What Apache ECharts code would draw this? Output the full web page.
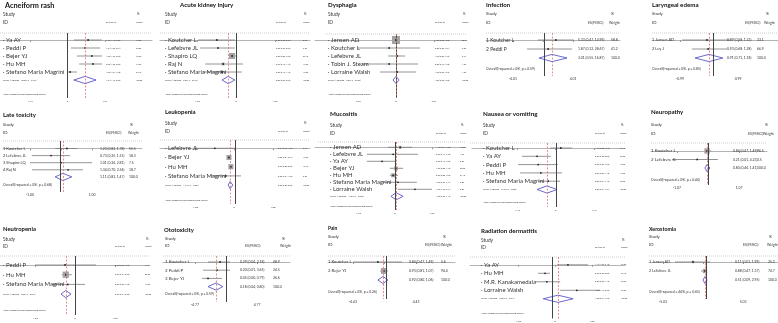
<!DOCTYPE html>
<html>
<head>
<meta charset="utf-8">
<script src="https://cdn.jsdelivr.net/npm/echarts@6/dist/echarts.min.js"></script>
<style>
  html, body { margin: 0; padding: 0; background: #fff; }
  #chart { width: 778px; height: 323px; }
</style>
</head>
<body>
<div id="chart"></div>
<script>
// Forest plots, one per adverse event. Positions are in plot units:
// the two outer tick labels sit at -1 and +1.
const panelTitles = [
  "Acneiform rash", "Acute kidney injury", "Dysphagia", "Infection", "Laryngeal edema",
  "Late toxicity", "Leukopenia", "Mucositis", "Nausea or vomiting", "Neuropathy",
  "Neutropenia", "Ototoxicity", "Pain", "Radiation dermatitis", "Xerostomia",
];

const studyNames = [
  ["Ya AY", "Peddi P", "Bejer YJ", "Hu MH", "Stefano Maria Magrini"],
  ["Koutcher L", "Lefebvre JL", "Shapiro LQ", "Raj N", "Stefano Maria Magrini"],
  ["Jensen AD", "Koutcher L", "Lefebvre JL", "Tobin J. Steam", "Lorraine Walsh"],
  ["1 Koutcher L", "2 Peddi P"],
  ["1 Jensen AD", "2 Ley J"],
  ["1 Koutcher L", "2 Lefebvre JL", "3 Shapiro LQ", "4 Raj N"],
  ["Lefebvre JL", "Bejer YJ", "Hu MH", "Stefano Maria Magrini"],
  ["Jensen AD", "Lefebvre JL", "Ya AY", "Bejer YJ", "Hu MH", "Stefano Maria Magrini", "Lorraine Walsh"],
  ["Koutcher L", "Ya AY", "Peddi P", "Hu MH", "Stefano Maria Magrini"],
  ["1 Koutcher L", "2 Lefebvre JL"],
  ["Peddi P", "Hu MH", "Stefano Maria Magrini"],
  ["1 Koutcher L", "2 Peddi P", "3 Bejer YJ"],
  ["1 Koutcher L", "2 Bejer YJ"],
  ["Ya AY", "Hu MH", "M.R. Kanakamedala", "Lorraine Walsh"],
  ["1 Jensen AD", "2 Lefebvre JL"],
];

const studyEst = [
  [0.55, 0.47, 0.65, 0.68, 0.07],
  [-0.49, -0.46, -0.10, -0.33, -0.36],
  [0.0, -0.18, 0.03, -0.18, 0.03],
  [0.43, 0.17],
  [-0.07, -0.03],
  [0.19, -0.32, 0.0, 0.23],
  [-0.49, -0.13, -0.08, -0.21],
  [0.14, -0.05, -0.35, 0.03, -0.05, 0.08, 0.54],
  [0.14, -0.48, -0.45, -0.38, -0.19],
  [-0.03, -0.35],
  [-0.25, -0.23, -0.18],
  [-0.19, -0.29, -0.58],
  [-0.21, -0.02],
  [0.35, -0.27, -0.22, 0.59],
  [-0.25, 0.05],
];

const studyLow = [
  [0.17, 0.09, 0.25, 0.31, 0.01],
  [-0.97, -0.92, -0.18, -0.79, -0.85],
  [-0.08, -1.0, -0.21, -0.89, -0.42],
  [-0.17, -0.53],
  [-0.93, -0.59],
  [-0.19, -0.94, -1.0, -0.94],
  [-1.0, -0.18, -0.13, -0.62],
  [-0.19, -0.76, -0.76, -0.14, -0.14, -0.32, 0.08],
  [-0.14, -0.87, -0.97, -0.92, -0.45],
  [-0.10, -1.16],
  [-1.0, -0.33, -0.58],
  [-0.58, -0.74, -0.77],
  [-1.0, -0.14],
  [0.05, -0.46, -0.54, 0.14],
  [-0.70, -0.05],
];

const studyHigh = [
  [0.92, 0.87, 0.92, 0.92, 0.25],
  [-0.03, -0.03, 0.03, 0.18, 0.15],
  [0.08, 0.63, 0.24, 0.58, 0.53],
  [1.03, 0.97],
  [0.72, 0.62],
  [0.52, 0.29, 1.0, 0.71],
  [0.03, -0.08, -0.03, 0.18],
  [0.46, 0.62, 0.0, 0.22, 0.08, 0.59, 1.0],
  [0.43, -0.12, 0.06, 0.17, 0.12],
  [0.10, 0.32],
  [0.53, -0.08, 0.25],
  [0.13, 0.13, -0.13],
  [0.56, 0.11],
  [0.89, -0.14, 0.14, 1.22],
  [0.18, 0.10],
];

const studyWeight = [
  [19.5, 20.8, 18.7, 17.9, 23.1],
  [8.2, 9.5, 56.4, 12.6, 13.3],
  [88.1, 2.3, 6.4, 1.6, 1.6],
  [58.8, 41.2],
  [33.1, 66.9],
  [55.5, 18.3, 7.5, 18.7],
  [5.4, 45.2, 46.1, 3.3],
  [16.3, 4.2, 8.9, 28.6, 31.4, 6.8, 3.8],
  [22.4, 20.5, 18.9, 17.6, 20.6],
  [96.5, 3.5],
  [7.1, 80.2, 12.7],
  [48.9, 24.5, 26.6],
  [5.6, 94.4],
  [27.5, 26.1, 23.9, 22.5],
  [25.3, 74.7],
];

const studyEsText = [
  ["1.72 (1.13, 2.60)", "1.64 (1.06, 2.54)", "1.96 (1.27, 2.60)", "2.02 (1.33, 2.60)", "1.07 (1.01, 1.28)"],
  ["0.62 (0.38, 0.97)", "0.63 (0.39, 0.97)", "0.90 (0.83, 1.03)", "0.72 (0.45, 1.19)", "0.70 (0.42, 1.16)"],
  ["1.00 (0.93, 1.08)", "0.85 (0.36, 1.84)", "1.02 (0.82, 1.27)", "0.85 (0.40, 1.78)", "1.03 (0.67, 1.62)"],
  ["5.33 (0.47, 14.99)", "1.87 (0.12, 28.67)"],
  ["0.89 (0.58, 1.33)", "0.93 (0.68, 1.28)"],
  ["1.23 (0.83, 1.78)", "0.73 (0.35, 1.53)", "1.01 (0.36, 2.81)", "1.34 (0.70, 2.56)"],
  ["0.61 (0.37, 1.03)", "0.89 (0.84, 0.94)", "0.92 (0.88, 0.97)", "0.82 (0.54, 1.20)"],
  ["1.15 (0.84, 1.58)", "0.96 (0.47, 1.93)", "0.73 (0.47, 1.00)", "1.02 (0.88, 1.19)", "0.96 (0.88, 1.06)", "1.07 (0.75, 1.71)", "1.66 (1.07, 2.71)"],
  ["1.15 (0.88, 1.52)", "0.60 (0.38, 0.89)", "0.62 (0.35, 1.06)", "0.67 (0.37, 1.18)", "0.83 (0.64, 1.13)"],
  ["0.84 (0.47, 1.49)", "0.21 (0.01, 4.23)"],
  ["0.78 (0.37, 1.69)", "0.79 (0.71, 0.92)", "0.83 (0.57, 1.28)"],
  ["0.29 (0.04, 2.18)", "0.20 (0.01, 3.65)", "0.05 (0.00, 0.79)"],
  ["0.84 (0.47, 1.49)", "0.93 (0.81, 1.07)"],
  ["1.42 (1.05, 2.43)", "0.76 (0.63, 0.87)", "0.80 (0.59, 1.15)", "1.78 (1.15, 3.35)"],
  ["0.11 (0.01, 1.99)", "0.88 (0.47, 1.37)"],
];

const overallEst = [0.47, -0.20, 0.0, 0.30, 0.0, 0.06, -0.10, 0.03, -0.22, -0.03, -0.23, -0.32, -0.05, 0.08, 0.05];
const overallLow = [0.17, -0.36, -0.08, -0.13, -0.48, -0.19, -0.15, -0.11, -0.48, -0.10, -0.35, -0.58, -0.21, -0.32, 0.0];
const overallHigh = [0.76, -0.03, 0.08, 0.80, 0.48, 0.35, -0.03, 0.22, 0.04, 0.06, -0.10, -0.10, 0.11, 0.49, 0.10];
const overallEsText = [
  "1.64 (1.17, 2.30)", "0.82 (0.70, 0.97)", "1.00 (0.93, 1.08)", "3.01 (0.55, 16.87)", "0.91 (0.71, 1.18)",
  "1.11 (0.83, 1.47)", "0.90 (0.86, 0.97)", "1.03 (0.90, 1.17)", "0.80 (0.61, 1.04)", "0.80 (0.46, 1.41)",
  "0.79 (0.71, 0.90)", "0.18 (0.04, 0.80)", "0.92 (0.80, 1.06)", "1.08 (0.71, 1.63)", "0.51 (0.09, 2.95)",
];
const heterogeneityText = [
  "Overall  (I-squared = 38.6%, p = 0.164)", "Overall  (I-squared = 0.0%, p = 0.512)",
  "Overall  (I-squared = 0.0%, p = 0.937)", "Overall(I-squared = 0%, p = 0.59)",
  "Overall(I-squared = 0%, p = 0.85)", "Overall(I-squared = 0%, p = 0.68)",
  "Overall  (I-squared = 12.4%, p = 0.331)", "Overall  (I-squared = 47.5%, p = 0.076)",
  "Overall  (I-squared = 51.2%, p = 0.084)", "Overall(I-squared = 0%, p = 0.44)",
  "Overall  (I-squared = 0.0%, p = 0.871)", "Overall(I-squared = 0%, p = 0.59)",
  "Overall(I-squared = 0%, p = 0.26)", "Overall  (I-squared = 72.9%, p = 0.011)",
  "Overall(I-squared = 46%, p = 0.65)",
];

// line of no effect, in plot units
const noEffectLine = [0, 0, 0, 0.03, 0.14, -0.03, 0.03, 0, 0.01, 0, 0, 0, 0.05, -0.08, 0.08];

const axisTickLabels = [
  ["-1.61", "0", "1.61"], ["-1.26", "0", "1.26"], ["-2.31", "0", "2.31"], ["-4.01", "", "4.01"],
  ["-0.99", "", "0.99"], ["-1.00", "", "1.00"], ["-1.38", "0", "1.38"], ["-1.92", "0", "1.92"],
  ["-1.47", "0", "1.47"], ["-1.07", "", "1.07"], ["-1.55", "0", "1.55"], ["-4.77", "", "4.77"],
  ["-4.43", "", "4.43"], ["-1.33", "0", "1.33"], ["-5.03", "", "5.03"],
];

const footNote = "NOTE: Weights are from random effects analysis";

// pixel layout of each panel (A = tiny-text layout, B = numbered layout)
const panelLayout = [
  { kind: "A", titleX: 5, titleY: 5.5, titleSize: 7.3, textX: 3, studyY: 14.5, idY: 22, esHdrX: 106, wHdrX: 136, esX: 106, wX: 136, sepY: 33, sepL: 0, sepR: 152, rowY: 40, step: 8, footY: 94, axisY: 98, axisL: 0, axisR: 152, tickL: 30, tickR: 105, boxScale: 4 },
  { kind: "A", titleX: 180, titleY: 5.5, titleSize: 6.2, textX: 165, studyY: 14.5, idY: 22, esHdrX: 276, wHdrX: 303, esX: 276, wX: 303, sepY: 33, sepL: 160, sepR: 310, rowY: 40, step: 8, footY: 94, axisY: 98, axisL: 160, axisR: 310, tickL: 197, tickR: 275, boxScale: 8 },
  { kind: "A", titleX: 328, titleY: 5, titleSize: 6.2, textX: 328, studyY: 14.5, idY: 22, esHdrX: 435, wHdrX: 462, esX: 435, wX: 462, sepY: 34, sepL: 325, sepR: 466, rowY: 40, step: 8, footY: 94, axisY: 98, axisL: 315, axisR: 466, tickL: 358, tickR: 434, boxScale: 8.5 },
  { kind: "B", titleX: 486, titleY: 5.5, titleSize: 6.1, textX: 486, studyY: 14, idY: 23, esHdrX: 588, wHdrX: 609, esX: 578, wX: 611, sepY: 33, sepL: 486, sepR: 620, rowY: 40, step: 9, hetDy: 11, axisY: 76, axisL: 486, axisR: 620, tickL: 513, tickR: 573, boxScale: 2, nameSize: 5 },
  { kind: "B", titleX: 652, titleY: 5.5, titleSize: 6.2, textX: 652, studyY: 14, idY: 23, esHdrX: 745, wHdrX: 764, esX: 727, wX: 757, sepY: 33, sepL: 652, sepR: 778, rowY: 40, step: 9, hetDy: 11, axisY: 76, axisL: 652, axisR: 778, tickL: 680, tickR: 738, boxScale: 2, nameSize: 4 },
  { kind: "B", titleX: 3, titleY: 115, titleSize: 6, textX: 3, studyY: 125, idY: 133, esHdrX: 106, wHdrX: 128, esX: 100, wX: 129, sepY: 141, sepL: 3, sepR: 142, rowY: 148.5, step: 7.1, hetDy: 8.5, axisY: 192, axisL: 3, axisR: 142, tickL: 30, tickR: 92, boxScale: 2, nameSize: 4 },
  { kind: "A", titleX: 165, titleY: 112.5, titleSize: 6, textX: 165, studyY: 123, idY: 131, esHdrX: 278, wHdrX: 303, esX: 278, wX: 303, sepY: 140, sepL: 160, sepR: 310, rowY: 148.3, step: 9.2, footY: 200, axisY: 204, axisL: 160, axisR: 310, tickL: 195, tickR: 273, boxScale: 7.5 },
  { kind: "A", titleX: 330, titleY: 114, titleSize: 6.3, textX: 330, studyY: 125, idY: 133, esHdrX: 436, wHdrX: 460, esX: 436, wX: 460, sepY: 142, sepL: 318, sepR: 466, rowY: 147.3, step: 7, footY: 206, axisY: 210, axisL: 315, axisR: 466, tickL: 358, tickR: 432, boxScale: 7 },
  { kind: "A", titleX: 483, titleY: 114, titleSize: 6.3, textX: 483, studyY: 125, idY: 133, esHdrX: 595, wHdrX: 620, esX: 595, wX: 620, sepY: 143, sepL: 470, sepR: 625, rowY: 148, step: 8.3, footY: 202, axisY: 207, axisL: 472, axisR: 625, tickL: 517, tickR: 594, boxScale: 4 },
  { kind: "B", titleX: 651, titleY: 112.5, titleSize: 6.1, textX: 651, studyY: 125, idY: 134, esHdrX: 748, wHdrX: 763, esX: 733, wX: 757, sepY: 143, sepL: 651, sepR: 767, rowY: 151, step: 8.5, hetDy: 12, axisY: 185, axisL: 651, axisR: 767, tickL: 677, tickR: 739, boxScale: 5.5, nameSize: 4.4 },
  { kind: "A", titleX: 3, titleY: 229, titleSize: 5.9, textX: 3, studyY: 239, idY: 246, esHdrX: 115, wHdrX: 145, esX: 115, wX: 145, sepY: 256, sepL: 0, sepR: 150, rowY: 265, step: 9.7, footY: 310, axisY: 315, axisL: 0, axisR: 150, tickL: 35, tickR: 115, boxScale: 7 },
  { kind: "B", titleX: 164, titleY: 230, titleSize: 5.9, textX: 165, studyY: 239, idY: 246, esHdrX: 245, wHdrX: 280, esX: 240, wX: 273, sepY: 256, sepL: 163, sepR: 290, rowY: 262, step: 8.2, hetDy: 7, axisY: 302, axisL: 163, axisR: 290, tickL: 195, tickR: 257, boxScale: 2, nameSize: 4.4 },
  { kind: "B", titleX: 328, titleY: 228, titleSize: 4.8, textX: 328, studyY: 237, idY: 245, esHdrX: 425, wHdrX: 441, esX: 409, wX: 441, sepY: 256, sepL: 328, sepR: 455, rowY: 262, step: 9, hetDy: 12, axisY: 299, axisL: 328, axisR: 455, tickL: 353, tickR: 416, boxScale: 6, nameSize: 4.2 },
  { kind: "A", titleX: 481, titleY: 231, titleSize: 6.2, textX: 481, studyY: 240, idY: 247, esHdrX: 595, wHdrX: 621, esX: 595, wX: 621, sepY: 257, sepL: 470, sepR: 625, rowY: 265, step: 8.7, footY: 313, axisY: 320, axisL: 470, axisR: 625, tickL: 518, tickR: 592, boxScale: 4 },
  { kind: "B", titleX: 649, titleY: 229, titleSize: 5.3, textX: 649, studyY: 237, idY: 245, esHdrX: 743, wHdrX: 767, esX: 735, wX: 768, sepY: 256, sepL: 649, sepR: 778, rowY: 262, step: 9, hetDy: 12, axisY: 299, axisL: 649, axisR: 778, tickL: 663, tickR: 743, boxScale: 5, nameSize: 3.8 },
];

const FONT = 'Lato, "Liberation Sans", sans-serif';
const INK = "#333";
const RED = "#e07272";
const DIAMOND = "#5a5ac8";

function label(x, y, text, size, extra) {
  return Object.assign(
    {
      type: "text",
      x,
      y,
      silent: true,
      style: { text, fontSize: size, fontFamily: FONT, fill: INK, verticalAlign: "middle", align: "left" },
    },
    extra || {},
  );
}

const chart = echarts.init(document.getElementById("chart"));
const grids = [];
const xAxes = [];
const yAxes = [];
const series = [];
const graphics = [];

panelLayout.forEach((L, k) => {
  const tiny = L.kind === "A";
  const n = studyNames[k].length;
  const mid = (L.tickL + L.tickR) / 2;
  const unit = (L.tickR - L.tickL) / 2;
  const nameSize = tiny ? 6 : L.nameSize;
  const esSize = tiny ? 2 : 3.4;
  const hdrSize = tiny ? 4.8 : 4.3;

  grids.push({ left: L.axisL, top: L.sepY, width: L.axisR - L.axisL, height: L.axisY - L.sepY });
  xAxes.push({
    gridIndex: k,
    type: "value",
    min: (L.axisL - mid) / unit,
    max: (L.axisR - mid) / unit,
    splitLine: { show: false },
    axisLine: { lineStyle: { color: "#b3b3b3", width: 1 } },
    axisTick: { customValues: [-1, 0, 1], length: 2, lineStyle: { color: "#999" } },
    axisLabel: {
      customValues: [-1, 0, 1],
      formatter: (v) => axisTickLabels[k][Math.round(v) + 1],
      fontSize: tiny ? 2.6 : 3.4,
      fontFamily: FONT,
      color: INK,
      margin: 1.5,
    },
  });
  yAxes.push({
    gridIndex: k,
    type: "value",
    inverse: true,
    show: false,
    min: -(L.rowY - L.sepY) / L.step,
    max: (L.axisY - L.rowY) / L.step,
  });

  // study rows: CI line, weighted box, texts
  series.push({
    type: "custom",
    xAxisIndex: k,
    yAxisIndex: k,
    silent: true,
    clip: false,
    animation: false,
    data: studyNames[k].map((_, i) => [i, studyEst[k][i], studyLow[k][i], studyHigh[k][i], studyWeight[k][i]]),
    renderItem: (params, api) => {
      const i = api.value(0);
      const es = api.coord([api.value(1), i]);
      const lo = api.coord([api.value(2), i]);
      const hi = api.coord([api.value(3), i]);
      const y = es[1];
      const w = api.value(4);
      const size = L.boxScale * Math.sqrt(w / 100);
      const kids = [
        { type: "line", shape: { x1: lo[0], y1: y, x2: hi[0], y2: y }, style: { stroke: "#7a7a7a", lineWidth: 0.8 } },
      ];
      if (size > 2.5) {
        kids.push({ type: "rect", shape: { x: es[0] - size / 2, y: y - size / 2, width: size, height: size }, style: { fill: "#a3a3a3" } });
      }
      kids.push({ type: "circle", shape: { cx: es[0], cy: y, r: 0.9 }, style: { fill: "#222" } });
      kids.push(label(L.textX, y, (tiny ? "· " : "") + studyNames[k][i], nameSize));
      kids.push(label(L.esX, y, studyEsText[k][i], esSize));
      kids.push(label(L.wX, y, tiny ? w.toFixed(2) : w.toFixed(1), esSize));
      return { type: "group", children: kids };
    },
    markLine: {
      silent: true,
      symbol: ["none", "none"],
      label: { show: false },
      animation: false,
      data: [
        { xAxis: noEffectLine[k], lineStyle: { color: "#444", width: 1, type: "solid" } },
        { xAxis: overallEst[k], lineStyle: { color: RED, width: 0.8, type: [2, 1.5] } },
      ],
    },
  });

  // pooled estimate diamond
  series.push({
    type: "custom",
    xAxisIndex: k,
    yAxisIndex: k,
    silent: true,
    clip: false,
    animation: false,
    z: 3,
    data: [[n, overallEst[k], overallLow[k], overallHigh[k]]],
    renderItem: (params, api) => {
      const r = api.value(0);
      const c = api.coord([api.value(1), r]);
      const l = api.coord([api.value(2), r]);
      const h = api.coord([api.value(3), r]);
      const d = 3.6;
      const y = c[1];
      const kids = [
        {
          type: "polygon",
          shape: { points: [[l[0], y], [c[0], y - d], [h[0], y], [c[0], y + d]] },
          style: { fill: "rgba(255,255,255,0.9)", stroke: DIAMOND, lineWidth: 0.9 },
        },
        label(L.esX, y, overallEsText[k], esSize),
        label(L.wX, y, tiny ? "100.00" : "100.0", esSize),
      ];
      if (tiny) kids.push(label(L.textX, y, heterogeneityText[k], 2));
      else kids.push(label(L.textX, y + L.hetDy, heterogeneityText[k], 3.4));
      return { type: "group", children: kids };
    },
  });

  // headers, separator, footer
  graphics.push(label(L.titleX, L.titleY, panelTitles[k], L.titleSize, {}));
  graphics[graphics.length - 1].style.fontWeight = "bold";
  graphics[graphics.length - 1].style.fill = "#111";
  graphics.push(label(L.textX, L.studyY, "Study", hdrSize));
  graphics.push(label(L.textX, L.idY, "ID", hdrSize));
  graphics.push(label(L.wHdrX + (tiny ? 1 : 2), L.studyY, "%", tiny ? 3 : hdrSize * 0.85));
  graphics.push(label(L.esHdrX, L.idY, tiny ? "ES (95% CI)" : "ES(95%CI)", tiny ? 2 : 3.4));
  graphics.push(label(L.wHdrX, L.idY, "Weight", tiny ? 2 : 3.4));
  graphics.push({
    type: "line",
    silent: true,
    shape: { x1: L.sepL, y1: L.sepY, x2: L.sepR, y2: L.sepY },
    style: { stroke: "#c4c4c4", lineWidth: 0.8, lineDash: [1, 1] },
  });
  if (tiny) graphics.push(label(L.textX, L.footY, footNote, 2));
});

chart.setOption({
  animation: false,
  backgroundColor: "#fff",
  grid: grids,
  xAxis: xAxes,
  yAxis: yAxes,
  series,
  graphic: graphics,
});
</script>
</body>
</html>
